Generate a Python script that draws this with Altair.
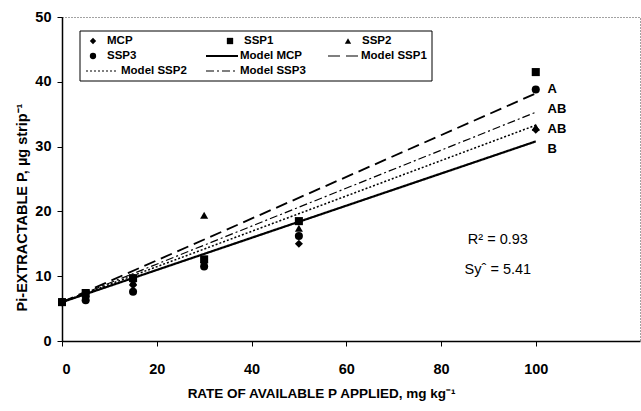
import altair as alt
import pandas as pd

# Measured P extracted at each application rate
rates = [0, 5, 15, 30, 50, 100]
mcp = [6.0, 6.8, 8.6, 12.1, 15.0, 32.6]
ssp1 = [6.0, 7.4, 9.7, 12.6, 18.5, 41.5]
ssp2 = [6.0, 7.2, 9.2, 19.4, 17.4, 33.0]
ssp3 = [6.0, 6.3, 7.6, 11.5, 16.2, 38.8]

# Fitted model lines (value at rate 0 and at rate 100)
model_rates = [0, 100]
model_mcp = [6.0, 30.8]
model_ssp1 = [6.0, 38.2]
model_ssp2 = [6.0, 33.3]
model_ssp3 = [6.0, 35.3]

# Mean separation letters at the highest rate
group_labels = ["A", "AB", "AB", "B"]
group_label_values = [38.9, 35.8, 32.7, 29.7]

series_names = ["MCP", "SSP1", "SSP2", "SSP3"]
model_names = ["Model MCP", "Model SSP1", "Model SSP2", "Model SSP3"]
shapes = ["diamond", "square", "triangle-up", "circle"]
dashes = [[1, 0], [12, 6], [2, 2], [8, 3, 2, 3]]
widths = [2.2, 1.2, 1.2, 1.2]

FONT = "Liberation Sans"
LEFT, TOP, RIGHT, BOTTOM = 62, 17, 1, 70
W, H = 641 - LEFT - RIGHT, 411 - TOP - BOTTOM

points = pd.DataFrame(
    [{"series": s, "rate": r, "value": v}
     for s, vals in zip(series_names, [mcp, ssp1, ssp2, ssp3])
     for r, v in zip(rates, vals)]
)
models = pd.DataFrame(
    [{"model": m, "rate": r, "value": v}
     for m, vals in zip(model_names, [model_mcp, model_ssp1, model_ssp2, model_ssp3])
     for r, v in zip(model_rates, vals)]
)
letters = pd.DataFrame({"label": group_labels, "value": group_label_values})

x_scale = alt.Scale(domain=[0, 122], nice=False, zero=False)
y_scale = alt.Scale(domain=[0, 50], nice=False)

x_axis = alt.Axis(
    values=[0, 20, 40, 60, 80, 100], format="d", grid=False,
    domainColor="black", domainWidth=1.5, tickColor="black", tickSize=5,
    labelFont=FONT, labelFontWeight="bold", labelFontSize=14.5, labelColor="black",
    labelPadding=16, title="RATE OF AVAILABLE P APPLIED, mg kg\u207b\u00b9",
    titleFont=FONT, titleFontWeight="bold", titleFontSize=13.5, titleColor="black",
    titlePadding=11, titleX=259,
)
y_axis = alt.Axis(
    values=[0, 10, 20, 30, 40, 50], format="d", grid=False,
    domainColor="black", domainWidth=1.5, tickColor="black", tickSize=5,
    labelFont=FONT, labelFontWeight="bold", labelFontSize=14.5, labelColor="black",
    labelPadding=6, title="Pi-EXTRACTABLE P, \u00b5g strip\u207b\u00b9",
    titleFont=FONT, titleFontWeight="bold", titleFontSize=14.5, titleColor="black",
    titlePadding=5, titleY=190,
)

lines = alt.Chart(models).mark_line(color="black").encode(
    x=alt.X("rate:Q", scale=x_scale, axis=x_axis),
    y=alt.Y("value:Q", scale=y_scale, axis=y_axis),
    detail="model:N",
    strokeDash=alt.StrokeDash("model:N", scale=alt.Scale(domain=model_names, range=dashes), legend=None),
    strokeWidth=alt.StrokeWidth("model:N", scale=alt.Scale(domain=model_names, range=widths), legend=None),
)

marks = alt.Chart(points).mark_point(filled=True, color="black", opacity=1, size=65).encode(
    x=alt.X("rate:Q", scale=x_scale),
    y=alt.Y("value:Q", scale=y_scale),
    shape=alt.Shape("series:N", scale=alt.Scale(domain=series_names, range=shapes), legend=None),
)

letter_text = alt.Chart(letters).mark_text(
    align="left", baseline="middle", font=FONT, fontWeight="bold", fontSize=13, color="black"
).encode(x=alt.datum(102.5), y=alt.Y("value:Q", scale=y_scale), text="label:N")

stats = pd.DataFrame({"txt": ["R\u00b2 = 0.93", "Sy\u02c6 = 5.41"], "value": [15.6, 11.0]})
stats_text = alt.Chart(stats).mark_text(
    align="center", baseline="middle", font=FONT, fontSize=14.5, color="black"
).encode(x=alt.datum(92), y=alt.Y("value:Q", scale=y_scale), text="txt:N")

# Hand-built legend box (page pixel positions, shifted into the plot group)
one = pd.DataFrame({"a": [0]})


def px(v):
    return alt.value(v - LEFT)


def py(v):
    return alt.value(v - TOP)


BOX = (80, 432, 31, 81)
ROWS = [41, 56, 71]
LEG_FONT = 11.5
legend_layers = [
    alt.Chart(one).mark_rect(fill="white", stroke="black", strokeWidth=1).encode(
        x=px(BOX[0]), x2=px(BOX[1]), y=py(BOX[2]), y2=py(BOX[3])
    )
]
point_slots = [(93, 107, 0), (230, 244, 0), (348, 362, 0), (93, 107, 1)]
for (sx, tx, row), shp, name in zip(point_slots, shapes, series_names):
    legend_layers.append(
        alt.Chart(one).mark_point(filled=True, color="black", opacity=1, size=40, shape=shp).encode(
            x=px(sx), y=py(ROWS[row]))
    )
    legend_layers.append(
        alt.Chart(one).mark_text(align="left", baseline="middle", font=FONT, fontWeight="bold",
                                 fontSize=LEG_FONT, color="black", text=name).encode(
            x=px(tx), y=py(ROWS[row]))
    )
line_slots = [(206, 238, 240, 1), (328, 358, 361, 1), (86, 118, 121, 2), (206, 238, 240, 2)]
for (x0, x1, tx, row), dsh, wd, name in zip(line_slots, dashes, widths, model_names):
    legend_layers.append(
        alt.Chart(one).mark_rule(color="black", strokeDash=dsh, strokeWidth=wd).encode(
            x=px(x0), x2=px(x1), y=py(ROWS[row]))
    )
    legend_layers.append(
        alt.Chart(one).mark_text(align="left", baseline="middle", font=FONT, fontWeight="bold",
                                 fontSize=LEG_FONT, color="black", text=name).encode(
            x=px(tx), y=py(ROWS[row]))
    )

chart = alt.layer(lines, marks, letter_text, stats_text, *legend_layers).properties(
    width=W, height=H,
    autosize=alt.AutoSizeParams(type="none"),
    padding={"left": LEFT, "top": TOP, "right": RIGHT, "bottom": BOTTOM},
    background="white",
).configure_view(stroke="#444", strokeDash=[1, 2], strokeWidth=1)

chart.save("out.html", embed_options={"renderer": "svg", "actions": False})
